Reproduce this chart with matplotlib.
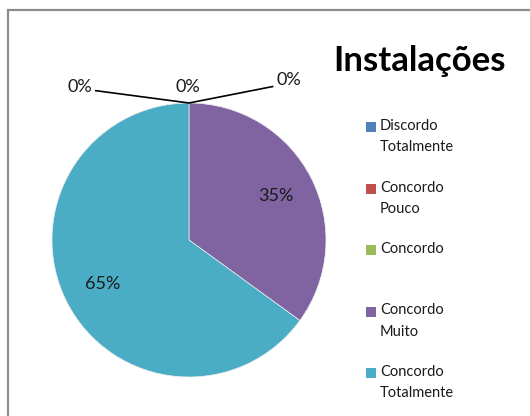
import matplotlib.pyplot as plt
import matplotlib.patches as mpatches

# dados
categorias = ["Discordo\nTotalmente", "Concordo\nPouco", "Concordo",
              "Concordo\nMuito", "Concordo\nTotalmente"]
valores = [0, 0, 0, 35, 65]
cores = ["#4F81BD", "#C0504D", "#9BBB59", "#8064A2", "#4BACC6"]
titulo = "Instalações"

plt.rcParams["font.family"] = ["Lato", "DejaVu Sans"]

W, H = 530, 416
fig = plt.figure(figsize=(W / 100, H / 100), dpi=100)
fig.patch.set_facecolor("white")

# moldura cinza do gráfico
fig.patches.append(mpatches.Rectangle(
    (8 / W, -0.05), 1.1, (H - 10) / H + 0.05, transform=fig.transFigure,
    fill=False, edgecolor="#8c8c8c", linewidth=1.6))

cx, cy, r = 189, 240, 137
ax = fig.add_axes([(cx - r) / W, (H - cy - r) / H, 2 * r / W, 2 * r / H])

wedges, _, autotexts = ax.pie(
    valores, colors=cores, startangle=90, counterclock=False,
    autopct=lambda p: f"{p:.0f}%" if p > 0 else "", pctdistance=0.71,
    wedgeprops={"linewidth": 0.5, "edgecolor": "#eeeeee"},
    textprops={"fontsize": 13, "color": "#1a1a1a"})
ax.set_xlim(-1, 1)
ax.set_ylim(-1, 1)
ax.set_aspect("equal")
ax.axis("off")

# rótulos 0% com linhas de ligação
ax.plot([-0.68, 0, 0.61], [1.09, 1.0, 1.12], color="black", lw=1.2,
        clip_on=False, solid_joinstyle="miter")
ax.text(-0.8, 1.12, "0%", fontsize=13, ha="center", va="center", color="#1a1a1a")
ax.text(-0.01, 1.12, "0%", fontsize=13, ha="center", va="center", color="#1a1a1a")
ax.text(0.73, 1.17, "0%", fontsize=13, ha="center", va="center", color="#1a1a1a")

fig.text(420 / W, 1 - 61 / H, titulo, fontsize=25, fontweight="bold",
         ha="center", va="center", color="black")

# legenda
for i, (lab, cor) in enumerate(zip(categorias, cores)):
    y = 127 + i * 61.5
    fig.patches.append(mpatches.Rectangle(
        (366 / W, 1 - (y + 5) / H), 10 / W, 10 / H, transform=fig.transFigure,
        facecolor=cor, edgecolor="none"))
    fig.text(380 / W, 1 - (y - 8) / H, lab, fontsize=10.5, ha="left", va="top",
             linespacing=1.65, color="#1a1a1a")

fig.savefig("out.png", dpi=100, facecolor="white")
